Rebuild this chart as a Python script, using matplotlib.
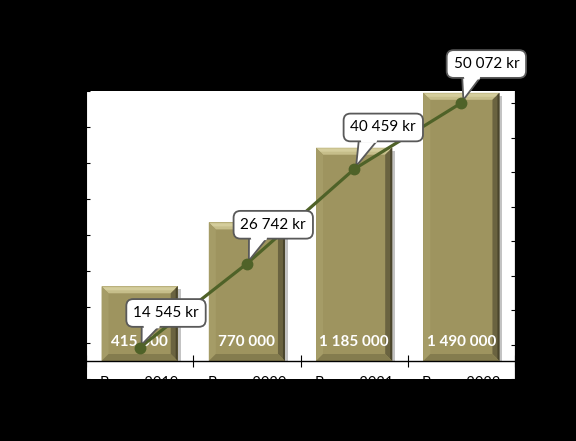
import matplotlib
matplotlib.use("Agg")
import matplotlib.pyplot as plt
from matplotlib.patches import Polygon
from matplotlib.ticker import FuncFormatter
import numpy as np

plt.rcParams['font.family'] = ['Lato', 'DejaVu Sans']

# data
years = ['Bonus 2019', 'Bonus 2020', 'Bonus 2021', 'Bonus 2022']
totals = [415000, 770000, 1185000, 1490000]
per_person = [14545, 26742, 40459, 50072]

# label offsets of the callouts (points)
callout_dx = [19, 19, 21, 18]
callout_dy = [25, 28, 30, 28]


def sv(v):
    return f"{v:,}".replace(",", " ")


fig = plt.figure(figsize=(5.76, 4.41), dpi=100, facecolor='black')
ax = fig.add_axes([86/576, 1-379/441, 429/576, 288/441])
ax.set_facecolor('white')

x = np.arange(len(years))
face = '#9E945F'
bars = ax.bar(x, totals, width=0.71, color=face, zorder=2, linewidth=0)

ax.set_xlim(-0.5, len(years)-0.5)
ax.set_ylim(-100000, 1500000)
ax.set_yticks(np.arange(-100000, 1500001, 200000))
ax.yaxis.set_major_formatter(FuncFormatter(lambda v, p: sv(int(v))))
ax.tick_params(axis='y', direction='inout', length=6, width=0.8,
               colors='black', labelsize=10)

ax.spines['top'].set_visible(False)
ax.spines['bottom'].set_position(('data', 0))
for s in ax.spines.values():
    s.set_color('black')
ax.spines['bottom'].set_linewidth(1.0)

ax.set_xticks(np.arange(-0.5, len(years), 1.0))
ax.set_xticklabels([])
ax.set_xticks(x, minor=True)
ax.set_xticklabels(years, minor=True)
ax.tick_params(axis='x', which='major', direction='inout', length=8, width=0.8)
ax.tick_params(axis='x', which='minor', length=0, pad=11, labelsize=10.5,
               labelcolor='black')

# bevel + soft shadow on each bar, worked out from the bar extents
fig.canvas.draw()
b = 7
to_fig = fig.transFigure.inverted()


def P(target, pts, c, z=2.1, a=1.0, ec='none', lw=0):
    target.add_patch(Polygon(to_fig.transform(pts), closed=True, fc=c, ec=ec,
                             lw=lw, transform=fig.transFigure, zorder=z,
                             alpha=a, clip_on=False))


for r in bars:
    (x0, y0), (x1, y1) = ax.transData.transform(
        [(r.get_x(), 0), (r.get_x()+r.get_width(), r.get_height())])
    P(ax, [(x0+2, y0-1), (x1+3, y0-1), (x1+3, y1-3), (x0+2, y1-3)], '#555555', z=1.9, a=0.35)
    P(ax, [(x0, y1), (x1, y1), (x1-b, y1-b), (x0+b, y1-b)], '#C6BE8A')
    P(ax, [(x0+1, y1-1), (x1-1, y1-1), (x1-4, y1-4), (x0+4, y1-4)], '#D4CD9C')
    P(ax, [(x0, y0), (x0, y1), (x0+b, y1-b), (x0+b, y0+b)], '#A59C67')
    P(ax, [(x1, y0), (x1, y1), (x1-b, y1-b), (x1-b, y0+b)], '#6A6340')
    P(ax, [(x1, y0), (x1, y1), (x1-2, y1-2), (x1-2, y0+2)], '#4A452C')
    P(ax, [(x0, y0), (x1, y0), (x1-b, y0+b), (x0+b, y0+b)], '#847C4E')

for xi, v in zip(x, totals):
    ax.annotate(sv(v), xy=(xi, 0), xytext=(0, 13.5), textcoords='offset points',
                ha='center', va='center', color='white', fontsize=11,
                fontweight='bold', zorder=3)

ax2 = ax.twinx()
ax2.set_ylim(10000, 51800)
ax2.set_yticks(np.arange(10000, 50001, 5000))
ax2.yaxis.set_major_formatter(FuncFormatter(lambda v, p: sv(int(v))))
ax2.tick_params(axis='y', direction='inout', length=6, width=0.8,
                colors='black', labelsize=10)
ax2.spines['top'].set_visible(False)
ax2.spines['bottom'].set_visible(False)
ax2.spines['left'].set_visible(False)
ax2.spines['right'].set_color('black')

green = '#4F6228'
ax2.plot(x, per_person, color=green, lw=2.3, zorder=2)
ax2.plot(x, per_person, 'o', color=green, ms=7.5, zorder=6, clip_on=False)

labels = []
for xi, v, dx, dy in zip(x, per_person, callout_dx, callout_dy):
    t = ax2.annotate(sv(v) + ' kr', xy=(xi, v), xytext=(dx, dy),
                     textcoords='offset points', ha='center', va='center',
                     fontsize=11, color='black', zorder=4,
                     bbox=dict(boxstyle='round,pad=0.45,rounding_size=0.45',
                               fc='white', ec='#595959', lw=1.3))
    labels.append(t)

# callout pointers from the box bottom to the point
fig.canvas.draw()
for t, xi, v in zip(labels, x, per_person):
    bb = t.get_bbox_patch().get_window_extent()
    px, py = ax2.transData.transform((xi, v))
    bx = bb.x0 + 0.32 * bb.width
    by = bb.y0
    half = 10
    P(ax2, [(bx-half, by+3), (bx+half, by+3), (px+2, py+3)], 'white', 3.9,
      ec='#595959', lw=1.3)
    P(ax2, [(bx-half+1.3, by+4), (bx+half-1.3, by+4), (bx+half-2.5, by-1.5),
            (bx-half+2.3, by-1.5)], 'white', 5)

fig.savefig('out.png', dpi=100, facecolor='black')
